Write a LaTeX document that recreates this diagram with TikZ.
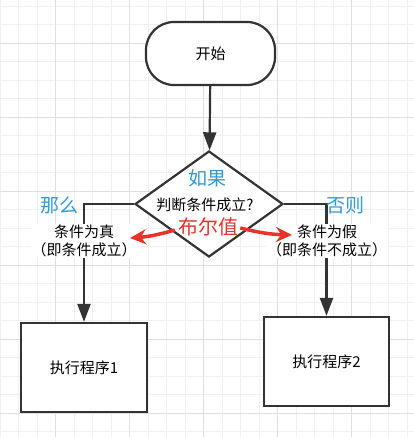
\documentclass[tikz,border=0pt]{standalone}
\usepackage{fontspec}
\setmainfont{Noto Sans CJK SC}
\usetikzlibrary{positioning,shapes.geometric,arrows.meta}

\definecolor{linegray}{HTML}{333333}
\definecolor{tipblue}{HTML}{2F9AD6}
\definecolor{tipred}{HTML}{E8322A}

\begin{document}
\begin{tikzpicture}[x=1pt, y=-1pt,
		minorgrid/.style={color=gray!12, line width=0.6pt},
		majorgrid/.style={color=gray!25, line width=0.7pt},
		flow/.style={draw=linegray, line width=2.2pt, -{Triangle[length=18pt, width=13pt]}},
		prog/.style={draw=linegray, line width=2.2pt, fill=white, minimum width=126pt, minimum height=89pt, font=\fontsize{15}{15}\selectfont},
		note/.style={fill=white, inner sep=1pt, align=center, font=\fontsize{15}{18}\selectfont},
		blueword/.style={text=tipblue, inner sep=0pt, font=\fontsize{19}{19}\selectfont},
		boolarrow/.style={draw=tipred, line width=3.5pt, -{Stealth[length=16pt, width=15pt]}}]
		% 画布大小
		\useasboundingbox (0, 0) rectangle (414, 437);
		\fill[white] (0, 0) rectangle (414, 437);
		% 背景网格线
		\foreach \gx in {0, 18.5, ..., 414} {
				\draw[minorgrid] (\gx, 0) -- (\gx, 437);
			}
		\foreach \gy in {6, 24.5, ..., 437} {
				\draw[minorgrid] (0, \gy) -- (414, \gy);
			}
		\foreach \gx in {55.5, 129.5, ..., 414} {
				\draw[majorgrid] (\gx, 0) -- (\gx, 437);
			}
		\foreach \gy in {43, 117, ..., 437} {
				\draw[majorgrid] (0, \gy) -- (414, \gy);
			}
		% 开始
		\node[draw=linegray, line width=2.2pt, fill=white, rounded corners=28pt, minimum width=129pt, minimum height=63pt,
			font=\fontsize{15}{15}\selectfont] (start) at (210.5, 53.5) {开始};
		% 判断框
		\node[diamond, draw=linegray, line width=2.2pt, fill=white, inner sep=0pt, aspect=1.4,
			minimum width=148pt, minimum height=106pt] (cond) at (209, 204) {};
		\node[font=\fontsize{15}{15}\selectfont, inner sep=0pt] (ask) at (205, 205) {判断条件成立?};
		\node[blueword] (ifword) at (207, 178) {如果};
		% 两个执行程序
		\node[prog] (prog1) at (84, 367.5) {执行程序1};
		\node[prog, minimum width=125pt] (prog2) at (326.5, 361.5) {执行程序2};
		% 连线
		\draw[flow] (start) -- (cond);
		\draw[flow] (cond.west) -| (prog1);
		\draw[flow] (cond.east) -| (prog2);
		% 分支说明
		\node[note] (truenote) at (84, 241) {条件为真\\（即条件成立）};
		\node[note] (falsenote) at (327, 241) {条件为假\\（即条件不成立）};
		\node[blueword] (thenword) at (59, 205) {那么};
		\node[blueword] (elseword) at (345, 205) {否则};
		% 布尔值与红色箭头
		\node[text=tipred, inner sep=0pt, font=\fontsize{20}{20}\selectfont] (bool) at (208, 227) {布尔值};
		\coordinate (lefttip) at (130, 238);
		\coordinate (righttip) at (292, 235);
		\draw[boolarrow] ([xshift=-3pt, yshift=-3pt]bool.west) to[bend left=6] (lefttip);
		\draw[boolarrow] ([xshift=2pt, yshift=-1pt]bool.east) to[bend right=6] (righttip);
	\end{tikzpicture}
\end{document}
